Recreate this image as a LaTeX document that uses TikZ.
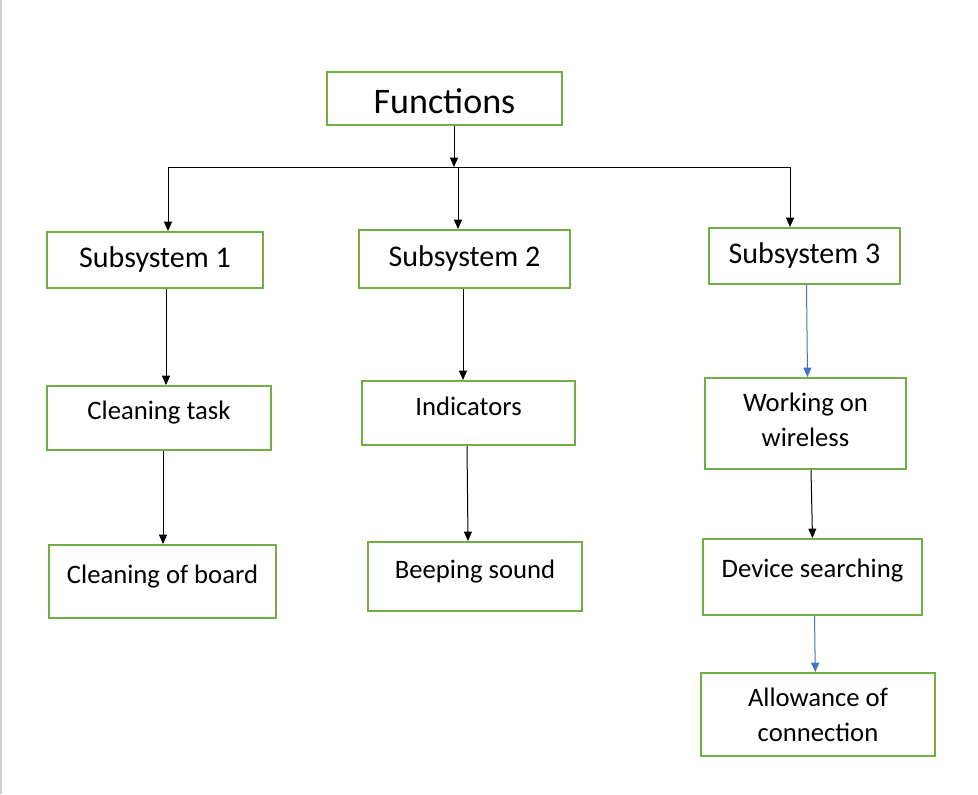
\documentclass[tikz,border=0pt]{standalone}
\usepackage{fontspec}
\setmainfont{Carlito}
\usetikzlibrary{calc,arrows.meta}
\definecolor{boxgreen}{HTML}{70AD47}
\definecolor{linkblue}{HTML}{4472C4}
\definecolor{edgegray}{HTML}{D0D0D0}

\begin{document}
\begin{tikzpicture}[x=0.75pt, y=-0.75pt]
        % One unit is one pixel of the page, y runs downwards
        \tikzset{
            box/.style={draw=boxgreen, line width=1.5pt, inner sep=2pt, align=center},
            boxsize/.style 2 args={minimum width=#1*0.75pt, minimum height=#2*0.75pt},
            lift/.style={text height=14pt, text depth=#1},
            big/.style={font=\fontsize{27}{32}\selectfont},
            mid/.style={font=\fontsize{22.5}{27}\selectfont, text height=16pt, text depth=5pt},
            small/.style={font=\fontsize{20}{26}\selectfont},
            arr/.style={-{Triangle[length=7pt, width=6pt]}, line width=0.75pt},
        }

        \useasboundingbox (0, 0) rectangle (978, 794);
        \draw[edgegray, line width=1.5pt] (1, 0) -- (1, 794);

        % Top box
        \node[box, big, boxsize={235}{53}, text height=24pt, text depth=0.6pt]
            (fun) at (444.5, 98) {Functions};

        % Subsystems
        \node[box, mid, boxsize={216}{56}] (sub1) at (155, 260) {Subsystem 1};
        \node[box, mid, boxsize={211}{58}] (sub2) at (464.5, 259) {Subsystem 2};
        \node[box, mid, boxsize={191}{56}] (sub3) at (804.5, 256) {Subsystem 3};

        % Second row
        \node[box, small, lift=11.9pt, boxsize={224}{64}] (clean) at (159, 418) {Cleaning task};
        \node[box, small, lift=10.4pt, boxsize={213}{64}] (ind) at (468.5, 413) {Indicators};
        \node[box, small, text depth=6pt, boxsize={201}{91}] (wire) at (805.5, 423.5) {Working on\\wireless};

        % Third row
        \node[box, small, lift=11.2pt, boxsize={227}{73}] (board) at (162.5, 581.5) {Cleaning of board};
        \node[box, small, lift=11.2pt, boxsize={214}{69}] (beep) at (475, 576.5) {Beeping sound};
        \node[box, small, lift=12.6pt, boxsize={219}{76}] (search) at (812.5, 577) {Device searching};

        % Last box
        \node[box, small, boxsize={234}{83}] (allow) at (818, 714.5) {Allowance of\\connection};

        % Branch line under the top box
        \coordinate (busA) at (454, 167);
        \coordinate (busL) at (168, 167);
        \coordinate (busM) at (458, 167);
        \coordinate (busR) at (790, 167);

        \begin{scope}[arr]
            \draw (fun.south -| busA) -- (busA);
            \draw[-] (busL) -- (busR);
            \draw (busL) -- (busL |- sub1.north);
            \draw (busM) -- (busM |- sub2.north);
            \draw (busR) -- (busR |- sub3.north);

            \draw ($(sub1.south) + (11, 0)$) -- ($(clean.north) + (7, 0)$);
            \draw ($(clean.south) + (4, 0)$) -- ($(board.north) + (0.5, 0)$);

            \draw ($(sub2.south) + (-1.5, 0)$) -- ($(ind.north) + (-5.5, 0)$);
            \draw ($(ind.south) + (-1.5, 0)$) -- ($(beep.north) + (-7, 0)$);

            \draw[linkblue] ($(sub3.south) + (2, 0)$) -- ($(wire.north) + (2, 0)$);
            \draw ($(wire.south) + (5.5, 0)$) -- ($(search.north) + (0, 0)$);
            \draw[linkblue] ($(search.south) + (2, 0)$) -- ($(allow.north) + (-2.7, 0)$);
        \end{scope}

\end{tikzpicture}
\end{document}
